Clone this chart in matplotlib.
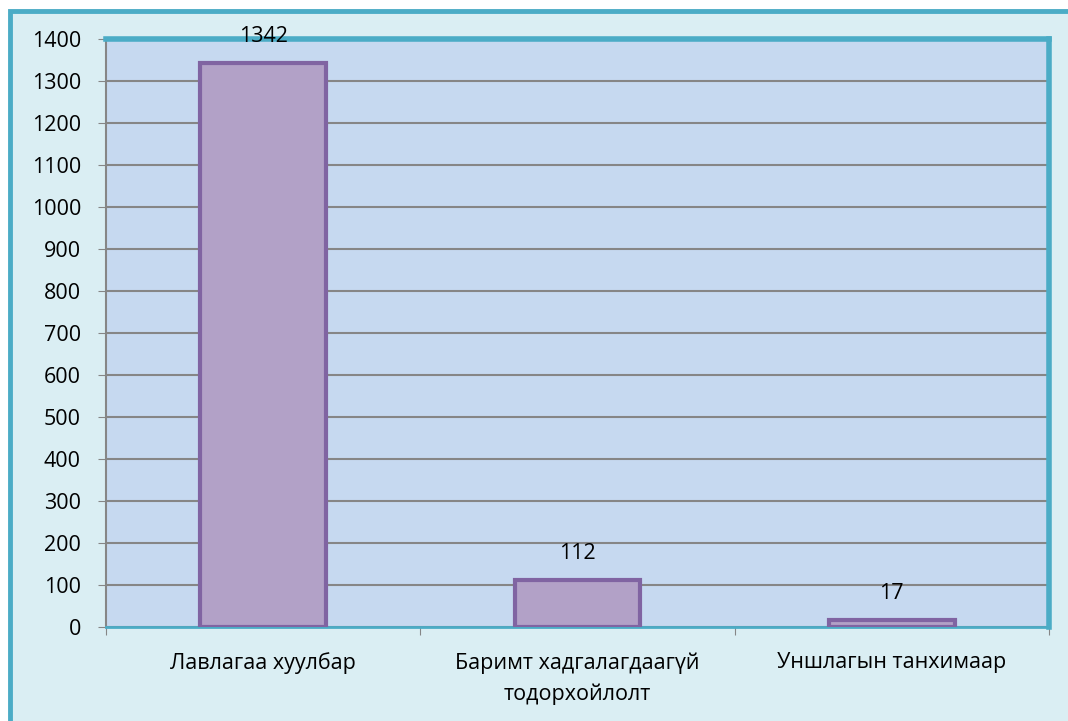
import matplotlib.pyplot as plt
from matplotlib.patches import Rectangle

categories = ["Лавлагаа хуулбар", "Баримт хадгалагдаагүй\nтодорхойлолт", "Уншлагын танхимаар"]
values = [1342, 112, 17]
yticks = list(range(0, 1401, 100))

plt.rcParams['font.family'] = ['Open Sans', 'DejaVu Sans']

fig = plt.figure(figsize=(10.68, 7.21), dpi=100)
fig.patch.set_facecolor("white")

# outer chart frame
fig.patches.append(Rectangle((10 / 1068, -0.05), 1.1, 1 - 11 / 721 + 0.05,
                             transform=fig.transFigure, facecolor="#DAEEF3",
                             edgecolor="#4BACC6", linewidth=3.5, zorder=-5))

ax = fig.add_axes([106 / 1068, 1 - 627 / 721, (1049 - 106) / 1068, (627 - 39) / 721])
ax.set_facecolor("#C6D9F0")

x = range(len(categories))
bars = ax.bar(x, values, width=0.4, color="#B2A1C7", edgecolor="#8064A2",
              linewidth=3, zorder=3)
for b, v in zip(bars, values):
    ax.annotate(str(v), (b.get_x() + b.get_width() / 2, v), xytext=(0, 19),
                textcoords="offset points", ha="center", va="center", fontsize=15.5)

ax.set_xlim(-0.5, 2.5)
ax.set_ylim(0, 1400)
ax.set_yticks(yticks)
ax.tick_params(axis="y", labelsize=15.5, length=6, color="#868686", pad=12)
ax.yaxis.grid(True, color="#868686", linewidth=1.5, zorder=1)

ax.set_xticks([-0.5, 0.5, 1.5, 2.5])
ax.set_xticklabels([])
ax.set_xticks(list(x), minor=True)
ax.set_xticklabels(categories, minor=True, fontsize=15.5, linespacing=1.6)
ax.tick_params(axis="x", which="major", length=6, color="#868686")
ax.tick_params(axis="x", which="minor", length=0, pad=18)

ax.spines["top"].set_color("#4BACC6")
ax.spines["top"].set_linewidth(4)
ax.spines["right"].set_color("#4BACC6")
ax.spines["right"].set_linewidth(4)
ax.spines["bottom"].set_color("#4BACC6")
ax.spines["bottom"].set_linewidth(2)
ax.spines["left"].set_color("#868686")
ax.spines["left"].set_linewidth(1.5)

plt.savefig("out.png", dpi=100)
